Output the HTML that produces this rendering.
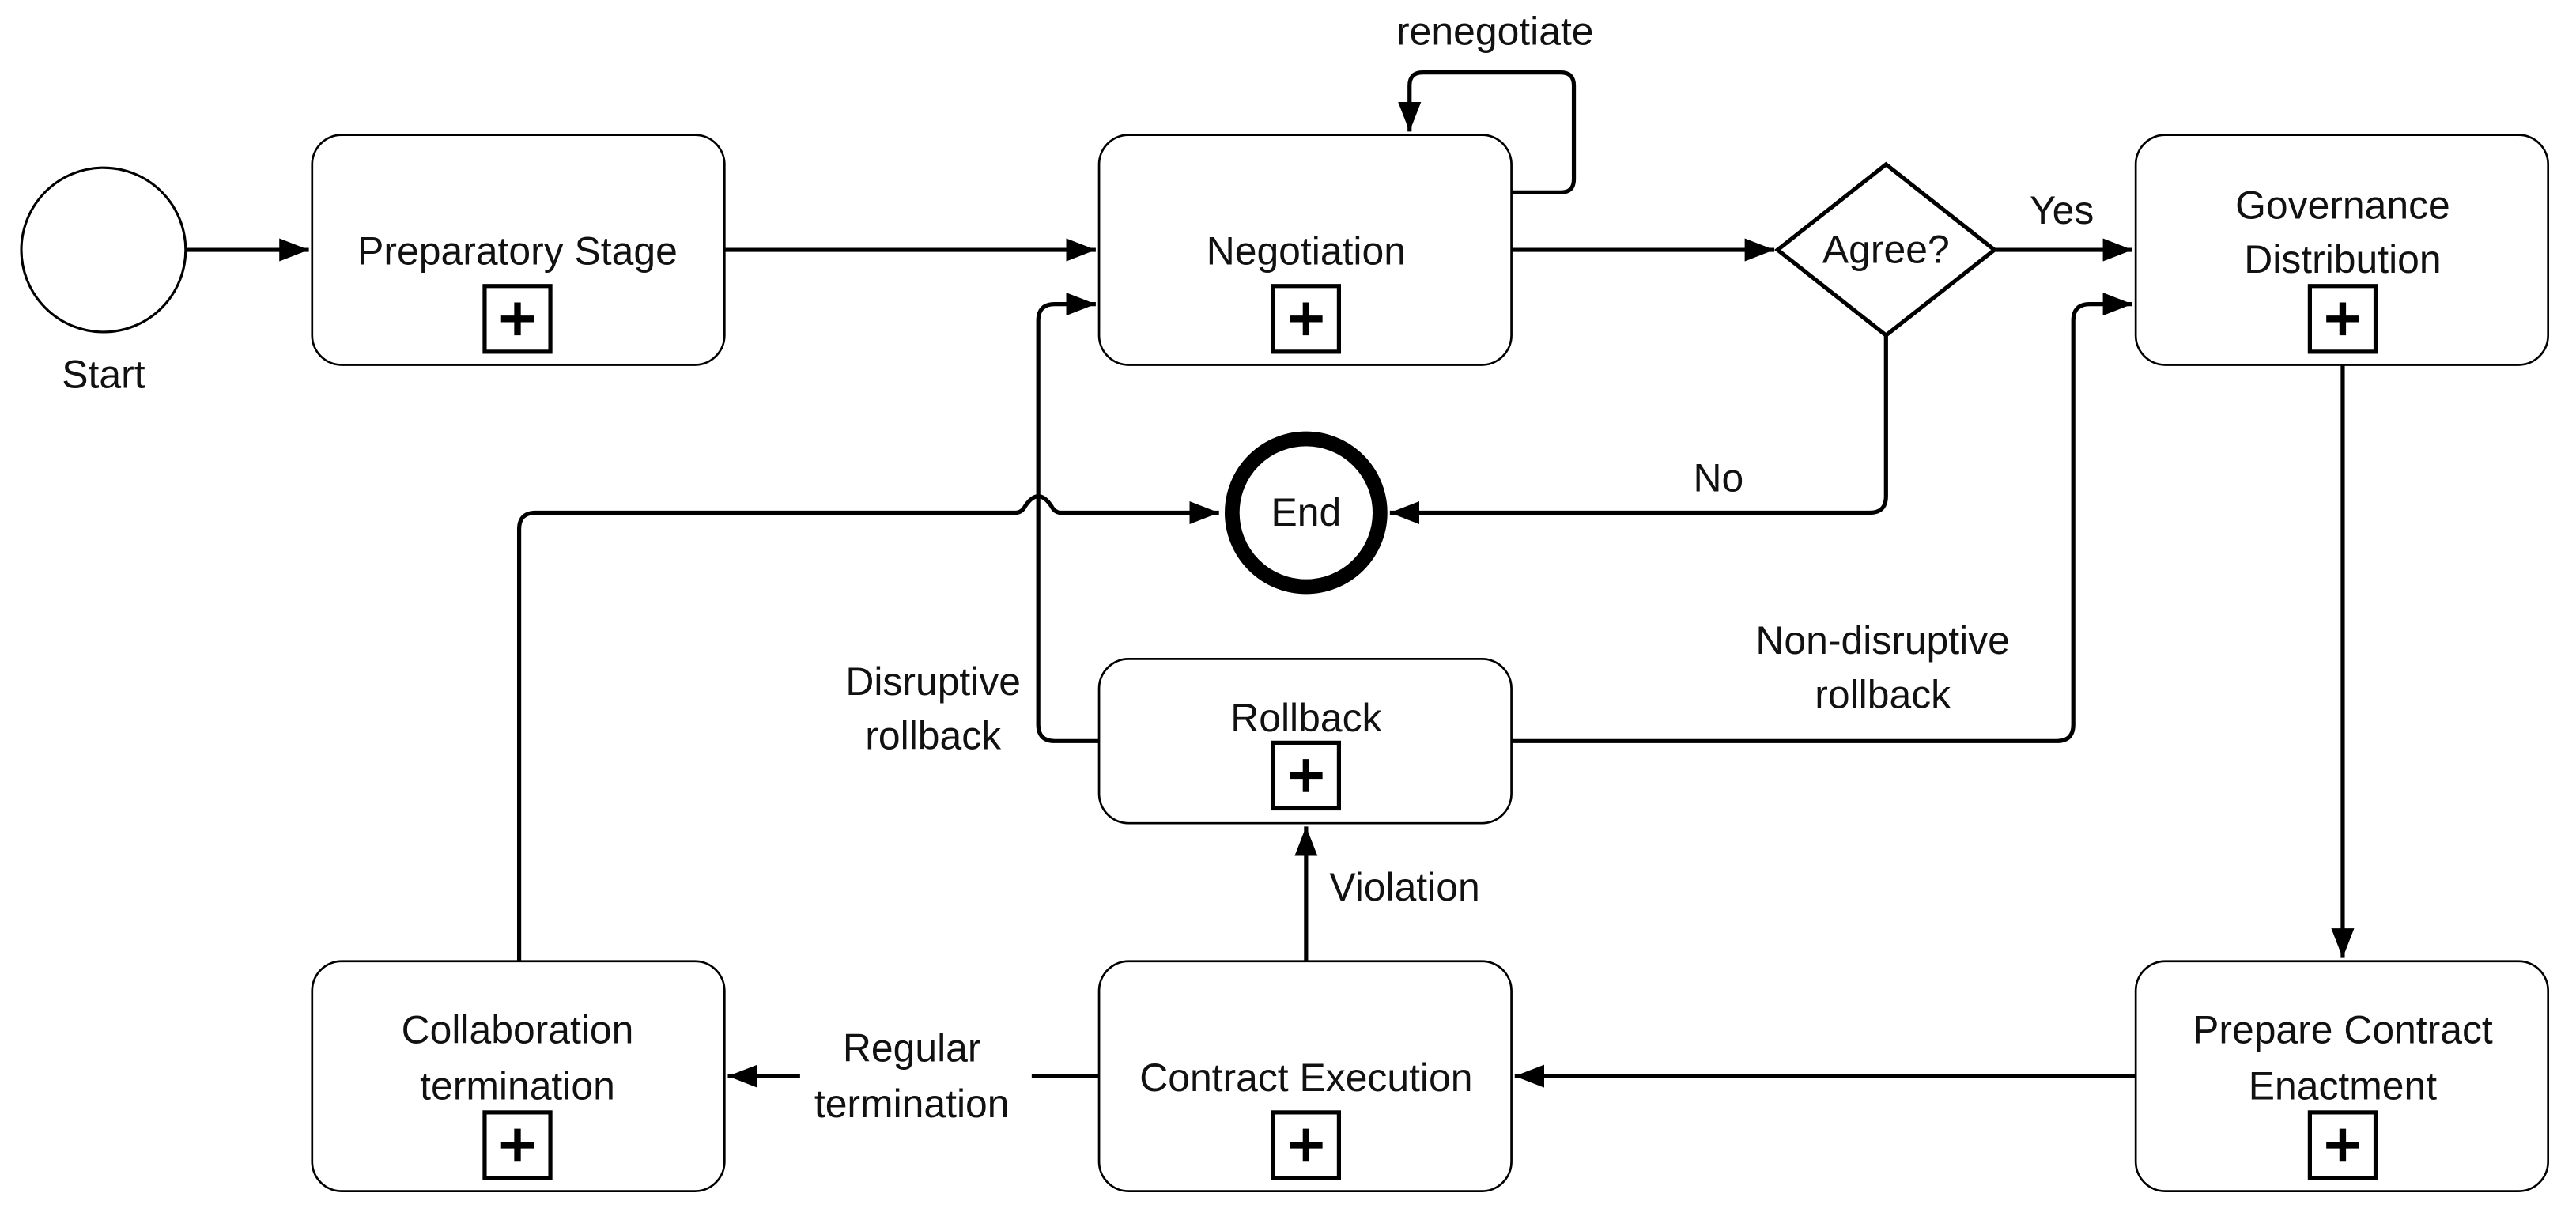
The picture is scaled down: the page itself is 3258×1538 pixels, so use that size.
<!DOCTYPE html>
<html><head><meta charset="utf-8"><style>
html,body{margin:0;padding:0;background:#fff}
svg{display:block}
text{font-family:"Liberation Sans",sans-serif;font-size:24px;fill:#111;text-anchor:middle}
</style></head><body>
<svg width="3258" height="1538" viewBox="0 0 1568 740" xmlns="http://www.w3.org/2000/svg">
<defs>
<marker id="ar" viewBox="0 0 18 14" refX="18" refY="7" markerWidth="18" markerHeight="14" orient="auto" markerUnits="userSpaceOnUse"><path d="M0,0 L18,7 L0,14 Z" fill="#000"/></marker>
<g id="plus"><rect x="-20" y="-20" width="40" height="40" fill="#fff" stroke="#000" stroke-width="2.5"/><path d="M-10,0H10M0,-10V10" stroke="#000" stroke-width="4"/></g>
</defs>
<g fill="none" stroke="#000" stroke-width="2.5">
<path d="M114,152H188" marker-end="url(#ar)"/>
<path d="M441,152H667" marker-end="url(#ar)"/>
<path d="M920,117H950Q958,117 958,109V52Q958,44 950,44H866Q858,44 858,52V80" marker-end="url(#ar)"/>
<path d="M920,152H1080" marker-end="url(#ar)"/>
<path d="M1214,152H1298" marker-end="url(#ar)"/>
<path d="M1148,204V302Q1148,312 1138,312H846" marker-end="url(#ar)"/>
<path d="M1426,222V583" marker-end="url(#ar)"/>
<path d="M1300,655H922" marker-end="url(#ar)"/>
<path d="M795,585V503" marker-end="url(#ar)"/>
<path d="M669,655H628"/>
<path d="M487,655H443" marker-end="url(#ar)"/>
<path d="M316,585V322Q316,312 326,312H618Q622,312 624,308Q628,302 632,302Q636,302 640,308Q642,312 646,312H742" marker-end="url(#ar)"/>
<path d="M669,451H642Q632,451 632,441V195Q632,185 642,185H667" marker-end="url(#ar)"/>
<path d="M920,451H1252Q1262,451 1262,441V195Q1262,185 1272,185H1298" marker-end="url(#ar)"/>
<circle cx="63" cy="152" r="50" fill="#fff" stroke-width="1.5"/>
<rect x="190" y="82" width="251" height="140" rx="18" fill="#fff" stroke-width="1.3"/>
<rect x="669" y="82" width="251" height="140" rx="18" fill="#fff" stroke-width="1.3"/>
<rect x="1300" y="82" width="251" height="140" rx="18" fill="#fff" stroke-width="1.3"/>
<rect x="669" y="401" width="251" height="100" rx="18" fill="#fff" stroke-width="1.3"/>
<rect x="190" y="585" width="251" height="140" rx="18" fill="#fff" stroke-width="1.3"/>
<rect x="669" y="585" width="251" height="140" rx="18" fill="#fff" stroke-width="1.3"/>
<rect x="1300" y="585" width="251" height="140" rx="18" fill="#fff" stroke-width="1.3"/>
<path d="M1082,152L1148,100L1214,152L1148,204Z" fill="#fff"/>
<circle cx="795" cy="312" r="45" fill="#fff" stroke-width="9"/>
</g>
<use href="#plus" x="315" y="194"/>
<use href="#plus" x="795" y="194"/>
<use href="#plus" x="1426" y="194"/>
<use href="#plus" x="795" y="472"/>
<use href="#plus" x="315" y="697"/>
<use href="#plus" x="795" y="697"/>
<use href="#plus" x="1426" y="697"/>
<text x="63" y="236">Start</text>
<text x="315" y="161">Preparatory Stage</text>
<text x="795" y="161">Negotiation</text>
<text x="910" y="27">renegotiate</text>
<text x="1148" y="160">Agree?</text>
<text x="1255" y="136">Yes</text>
<text x="1426" y="133">Governance</text>
<text x="1426" y="166">Distribution</text>
<text x="795" y="320">End</text>
<text x="1046" y="299">No</text>
<text x="795" y="445">Rollback</text>
<text x="568" y="423">Disruptive</text>
<text x="568" y="456">rollback</text>
<text x="1146" y="398">Non-disruptive</text>
<text x="1146" y="431">rollback</text>
<text x="855" y="548">Violation</text>
<text x="315" y="635">Collaboration</text>
<text x="315" y="669">termination</text>
<text x="555" y="646">Regular</text>
<text x="555" y="680">termination</text>
<text x="795" y="664">Contract Execution</text>
<text x="1426" y="635">Prepare Contract</text>
<text x="1426" y="669">Enactment</text>
</svg>
</body></html>
